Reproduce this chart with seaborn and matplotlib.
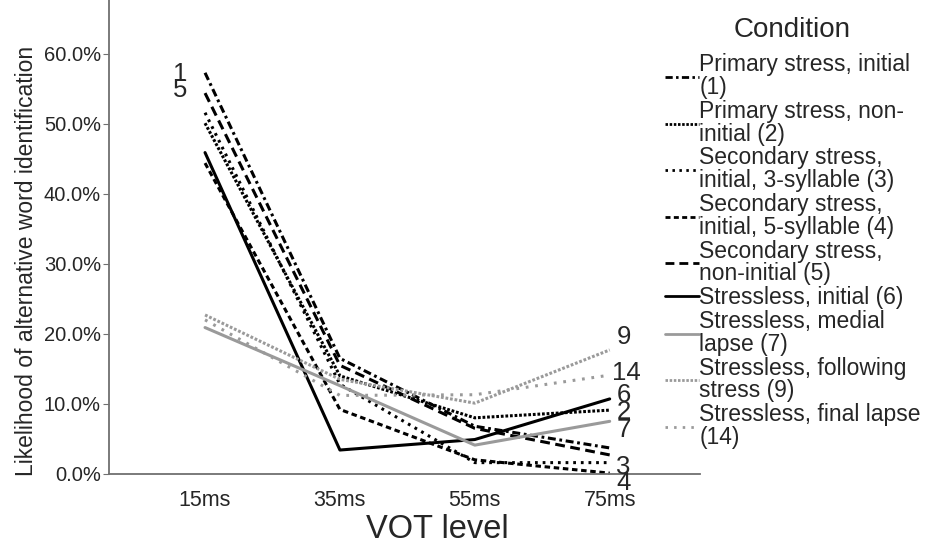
import pandas as pd
import matplotlib
matplotlib.use("Agg")
import matplotlib.pyplot as plt
import seaborn as sns

# VOT levels (x categories)
vot_levels = ["15ms", "35ms", "55ms", "75ms"]

# condition labels (legend) and short ids used on the plot
conditions = [
    "Primary stress, initial\n(1)",
    "Primary stress, non-\ninitial (2)",
    "Secondary stress,\ninitial, 3-syllable (3)",
    "Secondary stress,\ninitial, 5-syllable (4)",
    "Secondary stress,\nnon-initial (5)",
    "Stressless, initial (6)",
    "Stressless, medial\nlapse (7)",
    "Stressless, following\nstress (9)",
    "Stressless, final lapse\n(14)",
]
cond_ids = ["1", "2", "3", "4", "5", "6", "7", "9", "14"]

# likelihood of alternative word identification
cond1 = [0.573, 0.165, 0.068, 0.037]
cond2 = [0.501, 0.140, 0.080, 0.091]
cond3 = [0.516, 0.128, 0.016, 0.016]
cond4 = [0.444, 0.092, 0.020, 0.001]
cond5 = [0.544, 0.155, 0.065, 0.027]
cond6 = [0.459, 0.034, 0.049, 0.107]
cond7 = [0.209, 0.126, 0.041, 0.075]
cond9 = [0.227, 0.135, 0.101, 0.177]
cond14 = [0.220, 0.112, 0.113, 0.141]
series = [cond1, cond2, cond3, cond4, cond5, cond6, cond7, cond9, cond14]

rows = []
for cond, vals in zip(conditions, series):
    for i, v in enumerate(vals):
        rows.append({"VOT": i, "value": v, "Condition": cond})
df = pd.DataFrame(rows)

black = "#000000"
grey = "#9a9a9a"
palette = dict(zip(conditions, [black] * 6 + [grey] * 3))
dashes = dict(zip(conditions, [
    (2.6, 1.2, 0.9, 1.2),   # 1 dash-dot
    (0.9, 0.6),             # 2 dense dots
    (0.9, 1.6),             # 3 spaced dots
    (1.8, 1.2),             # 4 short dashes
    (3.2, 1.8),             # 5 long dashes
    "",                     # 6 solid
    "",                     # 7 solid grey
    (0.9, 0.6),             # 9 dense grey dots
    (0.9, 2.2),             # 14 sparse grey dots
]))

sns.set_style("white")
plt.rcParams["font.family"] = ["Liberation Sans", "DejaVu Sans"]

fig = plt.figure(figsize=(9.26, 5.44), dpi=100)
ax = fig.add_axes([0.118, 0.129, 0.638, 0.871])

sns.lineplot(data=df, x="VOT", y="value", hue="Condition", style="Condition",
             palette=palette, dashes=dashes, linewidth=2.2, sort=False,
             ax=ax)

ax.set_xlim(-0.71, 3.67)
ax.set_ylim(0, 0.677)
ax.set_xticks(range(len(vot_levels)))
ax.set_xticklabels(vot_levels)
ax.set_yticks([0, 0.1, 0.2, 0.3, 0.4, 0.5, 0.6])
ax.set_yticklabels([f"{t * 100:.1f}%" for t in ax.get_yticks()])
ax.tick_params(axis="y", direction="out", length=4, color="#707070",
               labelsize=14.5, pad=2, left=True)
ax.tick_params(axis="x", length=0, labelsize=15.5, pad=12)
for s in ["top", "right"]:
    ax.spines[s].set_visible(False)
for s in ["left", "bottom"]:
    ax.spines[s].set_color("#707070")
    ax.spines[s].set_linewidth(1.3)
for line in ax.lines:
    line.set_clip_on(False)

ax.set_xlabel("VOT level", fontsize=23.5, labelpad=2)
ax.xaxis.label.set_x(0.555)
ax.set_ylabel("Likelihood of alternative word identification", fontsize=16.5,
              labelpad=4)
ax.yaxis.label.set_y(0.449)

# condition numbers next to the lines
label_pos = {
    "1": (-0.185, 0.571), "5": (-0.185, 0.548),
    "9": (3.05, 0.196), "14": (3.02, 0.144), "6": (3.05, 0.113),
    "2": (3.05, 0.089), "7": (3.05, 0.063), "3": (3.05, 0.010),
    "4": (3.05, -0.013),
}
for cid, (lx, ly) in label_pos.items():
    ax.text(lx, ly, cid, fontsize=18.5, ha="center" if lx < 0 else "left",
            va="center", clip_on=False)

handles, labels = ax.get_legend_handles_labels()
leg = ax.legend(handles, labels, loc="upper left",
                bbox_to_anchor=(0.718, 0.902), bbox_transform=fig.transFigure,
                frameon=False, fontsize=16.5,
                handlelength=1.5, handletextpad=0.0, labelspacing=0.04,
                borderaxespad=0, borderpad=0)
for t in leg.get_texts():
    t.set_linespacing(0.98)
for h in leg.get_lines():
    h.set_linewidth(2.0)
fig.text(0.855, 0.945, "Condition", ha="center", va="center", fontsize=20)

fig.savefig("out.png", dpi=100)
plt.close(fig)
